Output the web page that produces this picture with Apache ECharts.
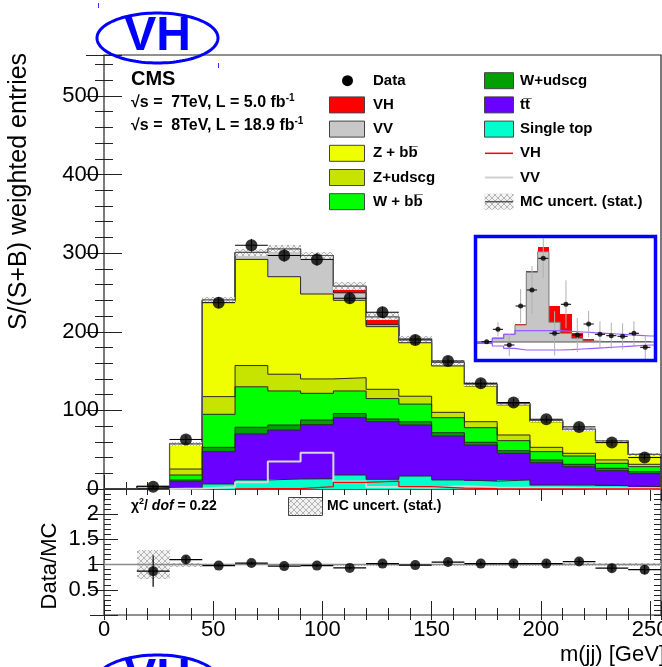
<!DOCTYPE html>
<html>
<head>
<meta charset="utf-8">
<script src="https://cdn.jsdelivr.net/npm/echarts@6/dist/echarts.min.js"></script>
<style>
  html, body { margin: 0; padding: 0; background: #fff; }
  #main { width: 662px; height: 667px; }
</style>
</head>
<body>
<div id="main"></div>
<script>
// ---- m(jj) binning (15 GeV bins) ----
const binEdges = [0, 15, 30, 45, 60, 75, 90, 105, 120, 135, 150, 165, 180, 195, 210, 225, 240, 255];

// ---- stacked background / signal contributions, S/(S+B) weighted entries per bin ----
const singleTop = [0, 0, 1.0, 6.4, 11.5, 12.7, 13.0, 17.8, 12.3, 16.5, 11.5, 10.0, 11.5, 5.0, 5.0, 4.2, 3.0];
const ttbar     = [0, 1.0, 8.3, 41.1, 58.5, 62.3, 68.8, 72.9, 73.3, 64.9, 55.9, 46.0, 33.9, 28.5, 23.4, 19.1, 16.5];
const wUdscg    = [0, 0.2, 2.1, 5.5, 8.5, 6.4, 6.0, 5.3, 3.4, 4.2, 4.2, 3.4, 3.3, 3.5, 3.0, 3.0, 2.5];
const wBb       = [0, 0.3, 6.4, 42.0, 51.5, 43.3, 33.9, 28.7, 26.0, 22.4, 19.1, 18.6, 12.8, 10.5, 10.6, 6.4, 6.4];
const zUdscg    = [0, 0.3, 7.6, 22.5, 27.0, 21.3, 18.3, 16.9, 11.8, 10.0, 6.8, 7.6, 7.2, 5.5, 3.4, 4.3, 3.0];
const zBb       = [0, 1.5, 31.6, 120.5, 135.0, 124.0, 108.0, 98.4, 79.7, 68.0, 59.0, 45.4, 38.3, 32.5, 29.6, 23.0, 12.1];
const vv        = [0, 0, 0.5, 2.5, 8.6, 35.0, 46.0, 9.5, 2.5, 2.0, 3.5, 2.0, 1.5, 1.5, 1.0, 1.0, 0.5];
const vh        = [0, 0, 0, 0, 0.4, 0.5, 3.0, 8.5, 10.0, 3.0, 1.0, 0.5, 0.2, 0.1, 0.1, 0.1, 0.1];

// ---- observed data ----
const dataVal = [null, 3, 63, 237, 310, 297, 292, 242.6, 224.8, 189.6, 162.8, 134.5, 110, 88.7, 79, 59, 40];
const dataErr = [0, 2.5, 5, 7, 8, 8, 8, 7, 7, 6.5, 6, 5.5, 5, 4.5, 4.5, 4, 3.5];

// ---- Data/MC ratio panel ----
const ratioVal = [null, 0.87, 1.10, 0.98, 1.03, 0.97, 0.98, 0.935, 1.02, 0.99, 1.05, 1.02, 1.02, 1.02, 1.06, 0.93, 0.90];
const ratioErr = [0, 0.31, 0.08, 0.03, 0.03, 0.03, 0.03, 0.03, 0.03, 0.03, 0.04, 0.04, 0.05, 0.05, 0.06, 0.07, 0.09];
const mcRelErr = [0, 0.28, 0.04, 0.015, 0.015, 0.015, 0.015, 0.02, 0.02, 0.02, 0.02, 0.02, 0.02, 0.025, 0.025, 0.03, 0.035];

// ---- tick labels ----
const mainYLabels = [0, 100, 200, 300, 400, 500];
const ratioYLabels = [0.5, 1, 1.5, 2];
const xLabels = [0, 50, 100, 150, 200, 250];

// ---- small framed sub-histogram (arbitrary units) ----
const insetBase  = 18;
const insetGray  = [18, 22, 25.7, 35, 87.7, 108.3, 37.7, 26.7, 21.7, 19, 18.5, 18.5, 18.5, 18.5, 18.5];
const insetRed   = [18, 22, 25.7, 36, 88.7, 112.7, 54.3, 46, 26.7, 21, 18.5, 18.5, 18.5, 18.5, 18.5];
const insetData  = [18.3, 30.7, 15, 54, 70, 101.7, 26.7, 55.7, 25, 36, 25.7, 24.3, 23.7, 26.7, 12.7];
const insetErr   = [2, 7, 11, 17, 24, 20, 22, 24, 17, 13, 13, 13, 13, 12, 12];
const insetUpper = [17.7, 21.7, 25.7, 29.3, 29.3, 29.3, 29.3, 28.7, 28, 27.3, 26.7, 26, 25.3, 24.7, 24];
const insetLower = [16.7, 14, 11.7, 10, 10, 10, 10, 10.3, 11, 11.7, 12.3, 13, 13.7, 14.3, 15];

// ---- styling ----
const FONT = "'Liberation Sans', Arial, Helvetica, sans-serif";
const stackDefs = [
  { name: 'Single top', vals: singleTop, color: '#00ffcc' },
  { name: 'ttbar', vals: ttbar, color: '#6a00ff' },
  { name: 'W+udscg', vals: wUdscg, color: '#00a000' },
  { name: 'W+bb', vals: wBb, color: '#00ff00' },
  { name: 'Z+udscg', vals: zUdscg, color: '#c6e400' },
  { name: 'Z+bb', vals: zBb, color: '#f0ff00' },
  { name: 'VV', vals: vv, color: '#c8c8c8' },
  { name: 'VH', vals: vh, color: '#ff0000' }
];

function hatchCanvas(bg) {
  const c = document.createElement('canvas');
  c.width = 6; c.height = 6;
  const g = c.getContext('2d');
  g.fillStyle = bg; g.fillRect(0, 0, 6, 6);
  g.strokeStyle = '#9a9a9a'; g.lineWidth = 0.7;
  g.beginPath();
  g.moveTo(0, 0); g.lineTo(6, 6);
  g.moveTo(6, 0); g.lineTo(0, 6);
  g.stroke();
  return c;
}
const hatchFill = { image: hatchCanvas('#f2f2f2'), repeat: 'repeat' };

// rect between [x0,x1] and [y0,y1] in data units
function rectRenderer(fill) {
  return function (params, api) {
    const a = api.coord([api.value(0), api.value(3)]);
    const b = api.coord([api.value(1), api.value(2)]);
    const x = Math.round(a[0]), y = Math.round(a[1]);
    const w = Math.round(b[0]) - x, h = Math.round(b[1]) - y;
    return { type: 'rect', shape: { x: x, y: y, width: w, height: h }, style: { fill: fill } };
  };
}
function errRenderer(color, vColor, lw) {
  return function (params, api) {
    const x = api.value(0), hw = api.value(1), y = api.value(2), e = api.value(3);
    const l = api.coord([x - hw, y]), r = api.coord([x + hw, y]);
    const t = api.coord([x, y + e]), b = api.coord([x, y - e]);
    return {
      type: 'group', children: [
        { type: 'line', shape: { x1: l[0], y1: l[1], x2: r[0], y2: r[1] }, style: { stroke: color, lineWidth: lw } },
        { type: 'line', shape: { x1: t[0], y1: t[1], x2: b[0], y2: b[1] }, style: { stroke: vColor, lineWidth: lw } }
      ]
    };
  };
}
function stepPoints(edges, vals, closeTo) {
  const pts = vals.map((v, i) => [edges[i], v]);
  pts.push([edges[vals.length], vals[vals.length - 1]]);
  if (closeTo !== undefined) pts.push([edges[vals.length], closeTo]);
  return pts;
}
// step outline of a single (unstacked) shape, starting at its first filled bin
function shapePoints(edges, vals) {
  const first = vals.findIndex(v => v > 0);
  return [[edges[first], 0]].concat(stepPoints(edges, vals).slice(first));
}

const series = [];
const fills = [], outlines = [];
let cum = binEdges.slice(0, -1).map(() => 0);
stackDefs.forEach(def => {
  const lo = cum.slice();
  const hi = cum.map((v, i) => v + def.vals[i]);
  cum = hi;
  const rects = [];
  hi.forEach((v, i) => { if (v - lo[i] > 0) rects.push([binEdges[i], binEdges[i + 1], lo[i], v]); });
  fills.push({
    type: 'custom', name: def.name, xAxisIndex: 0, yAxisIndex: 0, silent: true,
    renderItem: rectRenderer(def.color), data: rects, clip: true, z: 2
  });
  outlines.push({
    type: 'line', xAxisIndex: 0, yAxisIndex: 0, step: 'end', symbol: 'none', silent: true,
    data: [[0, 0]].concat(stepPoints(binEdges, hi, 0)),
    lineStyle: { color: '#2a2a2a', width: 1 }, z: 3
  });
});
const total = cum;
series.push(...fills, ...outlines);

// MC statistical band on top of the stack
series.push({
  type: 'custom', xAxisIndex: 0, yAxisIndex: 0, silent: true, z: 4, clip: true,
  renderItem: rectRenderer(hatchFill),
  data: total.map((v, i) => [binEdges[i], binEdges[i + 1], v * (1 - mcRelErr[i]), v * (1 + mcRelErr[i])]).filter(d => d[3] > d[2])
});
series.push({
  type: 'line', xAxisIndex: 0, yAxisIndex: 0, step: 'end', symbol: 'none', silent: true, z: 4,
  data: [[0, 0]].concat(stepPoints(binEdges, total, 0)),
  lineStyle: { color: '#555', width: 1.2 }
});

// unstacked VV and VH shapes
series.push({
  type: 'line', xAxisIndex: 0, yAxisIndex: 0, step: 'end', symbol: 'none', silent: true, z: 5,
  data: shapePoints(binEdges, vv), lineStyle: { color: '#d6d6d6', width: 2 }
});
series.push({
  type: 'line', xAxisIndex: 0, yAxisIndex: 0, step: 'end', symbol: 'none', silent: true, z: 5,
  data: shapePoints(binEdges, vh), lineStyle: { color: '#ff0000', width: 1.3 }
});

// data with error bars
const dataPts = [], dataErrs = [];
dataVal.forEach((v, i) => {
  if (v === null) return;
  const xc = (binEdges[i] + binEdges[i + 1]) / 2;
  dataPts.push([xc, v]);
  dataErrs.push([xc, (binEdges[i + 1] - binEdges[i]) / 2, v, dataErr[i]]);
});
series.push({ type: 'custom', xAxisIndex: 0, yAxisIndex: 0, silent: true, z: 6, renderItem: errRenderer('#000', '#000', 1), data: dataErrs });
series.push({ type: 'scatter', xAxisIndex: 0, yAxisIndex: 0, silent: true, z: 7, symbol: 'circle', symbolSize: 12, itemStyle: { color: '#000' }, data: dataPts });

// ratio panel
series.push({
  type: 'custom', xAxisIndex: 4, yAxisIndex: 4, silent: true, z: 2, clip: true,
  renderItem: rectRenderer(hatchFill),
  data: mcRelErr.map((e, i) => [binEdges[i], binEdges[i + 1], 1 - e, 1 + e]).filter(d => d[3] > d[2])
});
series.push({
  type: 'line', xAxisIndex: 4, yAxisIndex: 4, symbol: 'none', silent: true, z: 3,
  data: [[0, 1], [255, 1]], lineStyle: { color: '#8a8a8a', width: 1.5 }
});
const rPts = [], rErrs = [];
ratioVal.forEach((v, i) => {
  if (v === null) return;
  const xc = (binEdges[i] + binEdges[i + 1]) / 2;
  rPts.push([xc, v]);
  rErrs.push([xc, (binEdges[i + 1] - binEdges[i]) / 2, v, ratioErr[i]]);
});
series.push({ type: 'custom', xAxisIndex: 4, yAxisIndex: 4, silent: true, z: 4, renderItem: errRenderer('#000', '#000', 1.2), data: rErrs });
series.push({ type: 'scatter', xAxisIndex: 4, yAxisIndex: 4, silent: true, z: 5, symbol: 'circle', symbolSize: 10, itemStyle: { color: '#000' }, data: rPts });

// framed sub-histogram
const insetRects = [], insetRedRects = [], insetPts = [], insetErrs = [];
insetGray.forEach((v, i) => {
  if (v > insetBase) insetRects.push([i, i + 1, insetBase, v]);
  if (insetRed[i] > v) insetRedRects.push([i, i + 1, v, insetRed[i]]);
  insetPts.push([i + 0.5, insetData[i]]);
  insetErrs.push([i + 0.5, 0.45, insetData[i], insetErr[i]]);
});
const insetEdges = insetGray.map((v, i) => i).concat([insetGray.length]);
series.push({ type: 'custom', xAxisIndex: 7, yAxisIndex: 8, silent: true, z: 20, clip: true, renderItem: rectRenderer('#c6c6c6'), data: insetRects });
series.push({ type: 'custom', xAxisIndex: 7, yAxisIndex: 8, silent: true, z: 20, clip: true, renderItem: rectRenderer('#ff0000'), data: insetRedRects });
series.push({
  type: 'line', xAxisIndex: 7, yAxisIndex: 8, step: 'end', symbol: 'none', silent: true, z: 21,
  data: [[-0.35, insetBase]].concat(stepPoints(insetEdges, insetGray)), lineStyle: { color: '#7a7a7a', width: 1 }
});
series.push({
  type: 'line', xAxisIndex: 7, yAxisIndex: 8, symbol: 'none', silent: true, z: 21,
  data: [[-0.35, insetBase], [15.27, insetBase]], lineStyle: { color: '#555', width: 1 }
});
series.push({
  type: 'line', xAxisIndex: 7, yAxisIndex: 8, step: 'end', symbol: 'none', silent: true, z: 22,
  data: [[-0.35, insetUpper[0]]].concat(stepPoints(insetEdges, insetUpper)).concat([[15.27, insetUpper[insetUpper.length - 1]]]),
  lineStyle: { color: '#9a5cff', width: 1.2 }
});
series.push({
  type: 'line', xAxisIndex: 7, yAxisIndex: 8, step: 'end', symbol: 'none', silent: true, z: 22,
  data: [[-0.35, insetLower[0]]].concat(stepPoints(insetEdges, insetLower)).concat([[15.27, insetLower[insetLower.length - 1]]]),
  lineStyle: { color: '#9a5cff', width: 1.2 }
});
series.push({ type: 'custom', xAxisIndex: 7, yAxisIndex: 8, silent: true, z: 23, renderItem: errRenderer('#000', '#b0b0b0', 1), data: insetErrs });
series.push({ type: 'scatter', xAxisIndex: 7, yAxisIndex: 8, silent: true, z: 24, symbol: 'circle', symbolSize: 5, itemStyle: { color: '#000' }, data: insetPts });

// ---- axes ----
const tickStyle = { color: '#222', width: 1 };
function xAx(grid, pos, interval, len, showLabels) {
  return {
    type: 'value', gridIndex: grid, position: pos, min: 0, max: 255, interval: interval,
    axisLine: { show: false }, splitLine: { show: false },
    axisTick: { show: true, inside: true, length: len, lineStyle: tickStyle },
    axisLabel: {
      show: showLabels, margin: 4, fontFamily: FONT, fontSize: 22, color: '#000',
      hideOverlap: false,
      formatter: v => (xLabels.indexOf(v) >= 0 ? String(v) : '')
    }
  };
}
function yAx(grid, pos, min, max, interval, len, labelList) {
  return {
    type: 'value', gridIndex: grid, position: pos, min: min, max: max, interval: interval,
    axisLine: { show: false }, splitLine: { show: false },
    axisTick: { show: true, inside: true, length: len, lineStyle: tickStyle },
    axisLabel: {
      show: !!labelList, margin: 5, fontFamily: FONT, fontSize: 22, color: '#000',
      formatter: v => {
        if (!labelList) return '';
        const hit = labelList.find(l => Math.abs(l - v) < 1e-6);
        return hit === undefined ? '' : String(hit);
      }
    }
  };
}
const hiddenAx = (grid, min, max) => ({
  type: 'value', gridIndex: grid, min: min, max: max, show: false, splitLine: { show: false }
});

const xAxis = [
  xAx(0, 'bottom', 50, 14, false),
  xAx(0, 'bottom', 10, 7, false),
  xAx(0, 'top', 50, 12, false),
  xAx(0, 'top', 10, 6, false),
  xAx(1, 'bottom', 50, 14, true),
  xAx(1, 'bottom', 10, 7, false),
  xAx(1, 'top', 10, 5, false),
  hiddenAx(2, -0.35, 15.27)
];
const yAxis = [
  yAx(0, 'left', 0, 552, 100, 18, mainYLabels),
  yAx(0, 'left', 0, 552, 20, 9, null),
  yAx(0, 'right', 0, 552, 100, 18, null),
  yAx(0, 'right', 0, 552, 20, 9, null),
  yAx(1, 'left', 0, 2.5, 0.5, 14, ratioYLabels),
  yAx(1, 'left', 0, 2.5, 0.1, 7, null),
  yAx(1, 'right', 0, 2.5, 0.5, 14, null),
  yAx(1, 'right', 0, 2.5, 0.1, 7, null),
  hiddenAx(2, 0, 122)
];

// ---- legend (graphic) ----
const graphics = [];
const LROW0 = 80.7, LSTEP = 24.2;
const legCol1 = ['Data', 'VH', 'VV', 'Z + bb\u0305', 'Z+udscg', 'W + bb\u0305'];
const legCol1Colors = [null, '#ff0000', '#c8c8c8', '#f0ff00', '#c6e400', '#00ff00'];
legCol1.forEach((lab, i) => {
  const yc = LROW0 + i * LSTEP;
  if (i === 0) {
    graphics.push({ type: 'circle', shape: { cx: 347.5, cy: yc, r: 5.5 }, style: { fill: '#000' } });
  } else {
    graphics.push({ type: 'rect', shape: { x: 329.5, y: yc - 8, width: 35, height: 16 }, style: { fill: legCol1Colors[i], stroke: '#444', lineWidth: 1 } });
  }
  graphics.push({ type: 'text', x: 373, y: yc, style: { text: lab, font: 'bold 15px ' + FONT, fill: '#000', verticalAlign: 'middle', align: 'left' } });
});
const legCol2 = ['W+udscg', 'tt\u0305', 'Single top', 'VH', 'VV', 'MC uncert. (stat.)'];
legCol2.forEach((lab, i) => {
  const yc = LROW0 + i * LSTEP;
  if (i < 3) {
    const col = ['#00a000', '#6a00ff', '#00ffcc'][i];
    graphics.push({ type: 'rect', shape: { x: 484.5, y: yc - 8, width: 29, height: 16 }, style: { fill: col, stroke: '#444', lineWidth: 1 } });
  } else if (i === 3) {
    graphics.push({ type: 'line', shape: { x1: 485, y1: yc, x2: 513, y2: yc }, style: { stroke: '#ff0000', lineWidth: 1.5 } });
  } else if (i === 4) {
    graphics.push({ type: 'line', shape: { x1: 485, y1: yc, x2: 513, y2: yc }, style: { stroke: '#d0d0d0', lineWidth: 2 } });
  } else {
    graphics.push({ type: 'rect', shape: { x: 484.5, y: yc - 8, width: 29, height: 16 }, style: { fill: hatchFill } });
    graphics.push({ type: 'line', shape: { x1: 485, y1: yc, x2: 513, y2: yc }, style: { stroke: '#555', lineWidth: 1.5 } });
  }
  graphics.push({ type: 'text', x: 520, y: yc, style: { text: lab, font: 'bold 15px ' + FONT, fill: '#000', verticalAlign: 'middle', align: 'left' } });
});

// experiment label and luminosity
graphics.push({ type: 'text', x: 131, y: 79, style: { text: 'CMS', font: 'bold 20px ' + FONT, fill: '#000', verticalAlign: 'middle' } });
[['\u221As =  7TeV, L = 5.0 fb', 103], ['\u221As =  8TeV, L = 18.9 fb', 126]].forEach(([t, y]) => {
  graphics.push({
    type: 'text', x: 131, y: y,
    style: {
      text: '{a|' + t + '}{s|-1}', verticalAlign: 'middle', fill: '#000',
      rich: { a: { font: 'bold 16px ' + FONT, fill: '#000' }, s: { font: 'bold 10px ' + FONT, fill: '#000', padding: [0, 0, 9, 0] } }
    }
  });
});

// ratio panel annotations
graphics.push({
  type: 'text', x: 131, y: 506,
  style: {
    text: '{a|\u03C7}{s|2}{a|/ }{i|dof}{a| = 0.22}', verticalAlign: 'middle',
    rich: {
      a: { font: 'bold 14px ' + FONT, fill: '#000' },
      s: { font: 'bold 9px ' + FONT, fill: '#000', padding: [0, 0, 8, 0] },
      i: { font: 'italic bold 14px ' + FONT, fill: '#000' }
    }
  }
});
graphics.push({ type: 'rect', shape: { x: 288.5, y: 497.5, width: 34, height: 18 }, style: { fill: hatchFill, stroke: '#444', lineWidth: 1 } });
graphics.push({ type: 'text', x: 327, y: 506, style: { text: 'MC uncert. (stat.)', font: 'bold 14px ' + FONT, fill: '#000', verticalAlign: 'middle' } });

// axis titles
graphics.push({ type: 'text', x: 19, y: 191.5, rotation: Math.PI / 2, style: { text: 'S/(S+B) weighted entries', font: '25px ' + FONT, fill: '#000', align: 'center', verticalAlign: 'middle' } });
graphics.push({ type: 'text', x: 50, y: 566, rotation: Math.PI / 2, style: { text: 'Data/MC', font: '22px ' + FONT, fill: '#000', align: 'center', verticalAlign: 'middle' } });
graphics.push({ type: 'text', x: 665, y: 655, style: { text: 'm(jj) [GeV]', font: '22px ' + FONT, fill: '#000', align: 'right', verticalAlign: 'middle' } });

// blue frame around the sub-histogram
graphics.push({ type: 'rect', z: 100, shape: { x: 475.5, y: 236.5, width: 180, height: 124 }, style: { fill: 'none', stroke: '#0000ff', lineWidth: 3.5 } });

// VH badges: ellipse outline as a fine polygon
function badge(cy) {
  const pts = [];
  for (let k = 0; k < 120; k++) {
    const t = (k / 120) * 2 * Math.PI;
    pts.push([157.5 + 60.5 * Math.cos(t), cy + 25 * Math.sin(t)]);
  }
  graphics.push({ type: 'polygon', z: 100, shape: { points: pts }, style: { fill: 'none', stroke: '#0000ff', lineWidth: 3 } });
  graphics.push({ type: 'text', z: 100, x: 157.5, y: cy - 1, style: { text: 'VH', font: 'bold 48px ' + FONT, fill: '#0000ff', align: 'center', verticalAlign: 'middle' } });
}
badge(38);
badge(680);
graphics.push({ type: 'line', z: 100, shape: { x1: 98.5, y1: 3, x2: 98.5, y2: 8 }, style: { stroke: '#3333ff', lineWidth: 1 } });
graphics.push({ type: 'line', z: 100, shape: { x1: 218.5, y1: 63, x2: 218.5, y2: 68 }, style: { stroke: '#3333ff', lineWidth: 1 } });

const gridBase = { outerBoundsMode: 'none', containLabel: false };
const option = {
  animation: false,
  backgroundColor: '#fff',
  grid: [
    Object.assign({ left: 104, top: 55, width: 557, height: 434, show: true, borderColor: '#222', borderWidth: 1.2, backgroundColor: 'transparent' }, gridBase),
    Object.assign({ left: 104, top: 489, width: 557, height: 126, show: true, borderColor: '#222', borderWidth: 1.2, backgroundColor: 'transparent' }, gridBase),
    Object.assign({ left: 477, top: 238, width: 177, height: 122, show: true, borderWidth: 0, backgroundColor: '#fff' }, gridBase)
  ],
  xAxis: xAxis,
  yAxis: yAxis,
  series: series,
  graphic: { elements: graphics }
};

const chart = echarts.init(document.getElementById('main'), null, { renderer: 'canvas' });
chart.setOption(option);
</script>
</body>
</html>
